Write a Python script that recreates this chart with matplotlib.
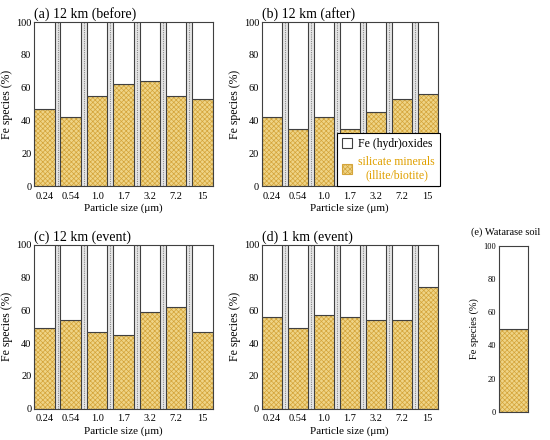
# Fe speciation by particle size

import matplotlib
matplotlib.use("Agg")
import matplotlib.pyplot as plt
from matplotlib.patches import Patch

plt.rcParams['font.family'] = ['Liberation Serif', 'DejaVu Serif']
plt.rcParams['hatch.linewidth'] = 0.5

sizes = ["0.24", "0.54", "1.0", "1.7", "3.2", "7.2", "15"]

sil_a = [47, 42, 55, 62, 64, 55, 53]
sil_b = [42, 35, 42, 35, 45, 53, 56]
sil_c = [49, 54, 47, 45, 59, 62, 47]
sil_d = [56, 49, 57, 56, 54, 54, 74]
sil_e = [50]

titles = ["(a) 12 km (before)", "(b) 12 km (after)", "(c) 12 km (event)", "(d) 1 km (event)"]

yellow = '#efd486'
hatch_col = '#d4a43a'
edge = '#404040'
w = 0.78

fig = plt.figure(figsize=(5.5, 4.4), dpi=100)
pos = [
	[0.062, 0.577, 0.325, 0.373],
	[0.476, 0.577, 0.320, 0.373],
	[0.062, 0.071, 0.325, 0.373],
	[0.476, 0.071, 0.320, 0.373],
]


def style_axis(ax, fs):
	ax.set_ylim(0, 100)
	ax.set_yticks([0, 20, 40, 60, 80, 100])
	ax.tick_params(axis='y', direction='in', length=3, labelsize=fs, right=True, width=0.6, pad=2)
	ax.tick_params(axis='x', length=0, labelsize=fs, pad=4)
	for s in ax.spines.values():
		s.set_color(edge)
		s.set_linewidth(0.8)


def draw_bars(ax, vals):
	x = list(range(len(vals)))
	ox = [100 - v for v in vals]
	ax.set_facecolor('#e6e6e6')
	for i in range(len(vals) - 1):
		ax.axvline(i + 0.5, color='#8a8a8a', lw=0.8, ls=(0, (1, 1)), zorder=0)
	b1 = ax.bar(x, vals, width=w, color=yellow, edgecolor=hatch_col, hatch='xxxxxxx', lw=0, zorder=2)
	ax.bar(x, vals, width=w, color='none', edgecolor=edge, lw=0.8, zorder=3)
	ax.bar(x, ox, bottom=vals, width=w, color='white', edgecolor=edge, lw=0.8, zorder=3)
	ax.set_xlim(-w / 2, len(vals) - 1 + w / 2)
	return b1


for k, vals in enumerate([sil_a, sil_b, sil_c, sil_d]):
	ax = fig.add_axes(pos[k])
	draw_bars(ax, vals)
	style_axis(ax, 7.5)
	ax.set_xticks(range(len(sizes)))
	ax.set_xticklabels(sizes)
	ax.set_ylabel("Fe species (%)", fontsize=8.5, labelpad=2)
	ax.set_xlabel("Particle size (\u03bcm)", fontsize=8, labelpad=2)
	ax.set_title(titles[k], loc='left', fontsize=10, pad=3)

# panel e
ax = fig.add_axes([0.907, 0.064, 0.053, 0.377])
draw_bars(ax, sil_e)
style_axis(ax, 6)
ax.set_xticks([])
ax.tick_params(axis='y', length=2)
ax.set_ylabel("Fe species (%)", fontsize=7.5, labelpad=3)
fig.text(0.857, 0.466, "(e) Watarase soil", fontsize=7.5)

handles = [
	Patch(facecolor='white', edgecolor=edge, lw=0.8),
	Patch(facecolor=yellow, edgecolor=hatch_col, hatch='xxxxxxx', lw=0.8),
]
leg = fig.legend(handles, ["Fe (hydr)oxides", "silicate minerals\n(illite/biotite)"],
	loc='lower left', bbox_to_anchor=(0.613, 0.577), fontsize=8.5,
	frameon=True, fancybox=False, edgecolor='black', framealpha=1,
	handlelength=0.9, handleheight=0.9, handletextpad=0.5,
	borderpad=0.4, labelspacing=0.5, borderaxespad=0)
leg.get_frame().set_linewidth(0.8)
leg.get_texts()[1].set_color('#e0a000')
leg.get_texts()[1].set_multialignment('center')

plt.savefig("out.png", dpi=100)
